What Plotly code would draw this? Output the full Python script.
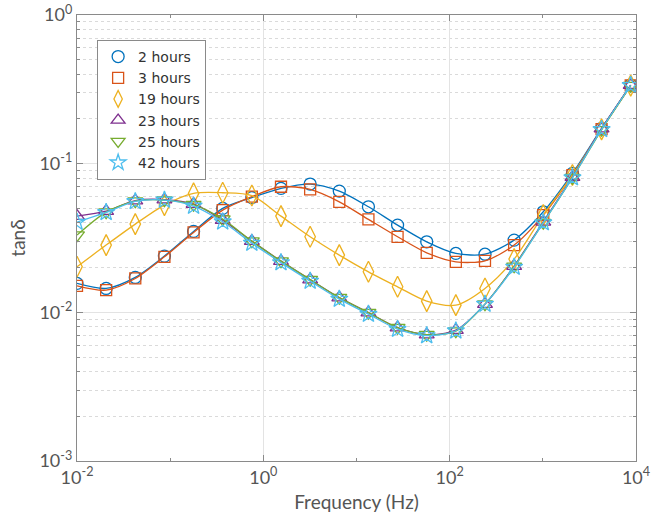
import plotly.graph_objects as go

# Measurement frequencies (Hz)
freq = [0.01, 0.02055, 0.04222, 0.08678, 0.1783, 0.3664, 0.7529, 1.547, 3.180, 6.535,
        13.43, 27.60, 56.71, 116.5, 239.4, 492.0, 1011, 2078, 4270, 8774]

# tan(delta) for each curing time
tan_2h = [0.01565, 0.01448, 0.01717, 0.02389, 0.03502, 0.05003, 0.05911, 0.06822, 0.07290, 0.06540,
          0.05129, 0.03862, 0.02981, 0.02491, 0.02460, 0.03061, 0.04745, 0.08603, 0.1728, 0.338]
tan_3h = [0.01508, 0.01411, 0.01690, 0.02363, 0.03448, 0.04873, 0.06004, 0.06992, 0.06715, 0.05539,
          0.04218, 0.03222, 0.02514, 0.02187, 0.02221, 0.02833, 0.04509, 0.08380, 0.1710, 0.336]
tan_19h = [0.02024, 0.02833, 0.03922, 0.05265, 0.06312, 0.06371, 0.06101, 0.04439, 0.03222, 0.02426,
           0.01873, 0.01485, 0.01189, 0.01118, 0.01448, 0.02280, 0.04509, 0.08380, 0.1700, 0.335]
tan_23h = [0.04439, 0.04797, 0.05644, 0.05732, 0.05347, 0.04173, 0.03014, 0.02210, 0.01660, 0.01256,
           0.009954, 0.007885, 0.007078, 0.007590, 0.01136, 0.02047, 0.04064, 0.08124, 0.1720, 0.338]
tan_25h = [0.03307, 0.04723, 0.05601, 0.05689, 0.05306, 0.04238, 0.03014, 0.02210, 0.01660, 0.01256,
           0.009954, 0.007890, 0.007080, 0.007474, 0.01136, 0.02040, 0.04010, 0.08050, 0.1690, 0.335]
tan_42h = [0.04046, 0.04700, 0.05570, 0.05690, 0.05185, 0.04064, 0.02922, 0.02160, 0.01622, 0.01227,
           0.009720, 0.007700, 0.006970, 0.007520, 0.01136, 0.02015, 0.04010, 0.08050, 0.1700, 0.336]

labels = ["2 hours", "3 hours", "19 hours", "23 hours", "25 hours", "42 hours"]
x_tick_exps = [-2, 0, 2, 4]
y_tick_exps = [-3, -2, -1, 0]

series = [tan_2h, tan_3h, tan_19h, tan_23h, tan_25h, tan_42h]
colors = ["#0072BD", "#D95319", "#EDB120", "#7E2F8E", "#77AC30", "#4DBEEE"]
symbols = ["circle-open", "square-open", "diamond-tall-open",
           "triangle-up-open", "triangle-down-open", "star-open"]
sizes = [12, 11, 15, 13, 13, 13]

fig = go.Figure()
for name, ys, c, s, sz in zip(labels, series, colors, symbols, sizes):
    fig.add_trace(go.Scatter(
        x=freq, y=ys, mode="lines+markers", name=name, showlegend=False,
        line=dict(color=c, width=1.3, shape="spline", smoothing=0.8),
        marker=dict(symbol=s, size=sz, color=c, line=dict(color=c, width=1.3)),
    ))
# marker-only legend entries
for name, c, s, sz in zip(labels, colors, symbols, sizes):
    fig.add_trace(go.Scatter(
        x=[None], y=[None], mode="markers", name=name,
        marker=dict(symbol=s, size=min(sz, 12), color=c, line=dict(color=c, width=1.3)),
    ))

font_family = "DejaVu Sans, sans-serif"
tick_family = "Lato, Open Sans, sans-serif"
text_color = "#555555"

y_minor = [m * 10.0 ** e for e in y_tick_exps[:-1] for m in range(2, 10)]
x_minor = [10.0 ** e for e in (-1, 1, 3)]

axis_common = dict(
    type="log", showline=True, linecolor="#8a8a8a", linewidth=1.2, mirror="ticks",
    ticks="inside", ticklen=6, tickcolor="#8a8a8a", zeroline=False,
    showgrid=True, gridcolor="#e3e3e3", gridwidth=1, automargin=False,
    tickfont=dict(family=tick_family, size=18, color=text_color),
    tickmode="array",
)

fig.update_xaxes(
    **axis_common,
    range=[-2, 4],
    tickvals=[10.0 ** e for e in x_tick_exps],
    ticktext=[f"10<sup>{e}</sup>" for e in x_tick_exps],
    title=dict(text="Frequency (Hz)", font=dict(family=tick_family, size=19, color=text_color),
               standoff=8),
    minor=dict(tickmode="array", tickvals=x_minor, ticks="inside", ticklen=3,
               tickcolor="#8a8a8a", showgrid=False),
)
fig.update_yaxes(
    **axis_common,
    range=[-3, 0],
    tickvals=[10.0 ** e for e in y_tick_exps],
    ticktext=[f"10<sup>{e}</sup>" for e in y_tick_exps],
    title=dict(text="tanδ", font=dict(family=tick_family, size=19, color=text_color),
               standoff=8),
    minor=dict(tickmode="array", tickvals=y_minor, ticks="inside", ticklen=3,
               tickcolor="#8a8a8a", showgrid=True, gridcolor="#dadada", griddash="dot",
               gridwidth=1),
)

fig.update_layout(
    width=651, height=520,
    margin=dict(l=77, r=15, t=15, b=59),
    paper_bgcolor="white", plot_bgcolor="white",
    font=dict(family=font_family, color=text_color),
    legend=dict(
        x=0.036, y=0.944, xanchor="left", yanchor="top",
        bgcolor="white", bordercolor="#8a8a8a", borderwidth=1,
        font=dict(family=font_family, size=14, color="#333333"),
        tracegroupgap=0, itemwidth=30,
    ),
)

fig.write_html("out.html")
